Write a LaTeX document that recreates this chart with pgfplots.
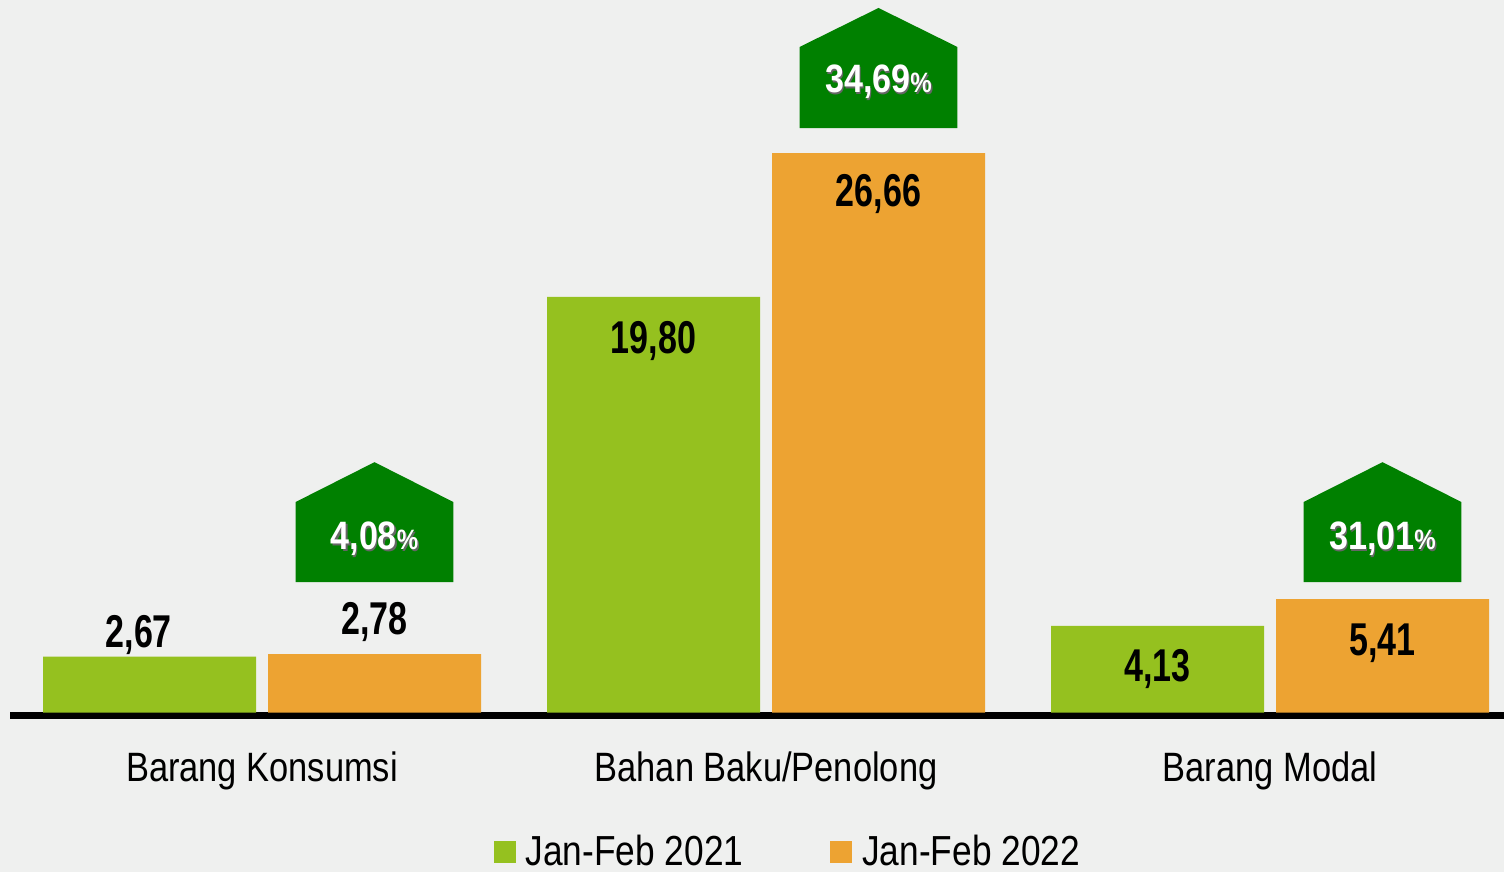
\documentclass[border=0pt]{standalone}
\usepackage{fontspec}
\setmainfont{Liberation Sans}[FakeStretch=0.84]
\newfontfamily\valfont{Liberation Sans}[FakeStretch=0.74]
\newfontfamily\pctfont{Liberation Sans}[FakeStretch=0.86]
\usepackage{pgfplots}
\usepackage{pgfplotstable}
\pgfplotsset{compat=1.18}
\definecolor{bg}{RGB}{239,240,239}
\definecolor{cgreen}{RGB}{149,193,31}
\definecolor{corange}{RGB}{237,163,50}
\definecolor{dkgreen}{RGB}{0,128,0}

\pgfplotstableread{
x y
0 2.67
1 19.80
2 4.13
}\tgreen
\pgfplotstableread{
x y
0 2.78
1 26.66
2 5.41
}\torange

\newcommand{\vlab}[3]{\node[anchor=base, inner sep=0pt] at (axis cs:#1,#2) {\valfont\bfseries\fontsize{23}{26}\selectfont #3};}
\newcommand{\pctlab}[3]{%
 \node[anchor=base, inner sep=0pt, text=black!60] at ([xshift=0.7pt,yshift=-0.7pt]axis cs:#1,#2) {\pctfont\bfseries\fontsize{19.8}{22}\selectfont #3\fontsize{14}{16}\selectfont\%};
 \node[anchor=base, inner sep=0pt, text=white] at (axis cs:#1,#2) {\pctfont\bfseries\fontsize{19.8}{22}\selectfont #3\fontsize{14}{16}\selectfont\%};}

\begin{document}
\begin{tikzpicture}
\fill[bg] (-5pt,-78.45pt) rectangle (747pt,357.55pt);
\begin{axis}[
 at={(0,0)}, anchor=south west, scale only axis,
 width=747pt, height=357.55pt,
 xmin=-0.5, xmax=2.4643, ymin=-0.12, ymax=33.95,
 axis x line=bottom, axis y line=none,
 axis line style={-, line width=3.5pt, black},
 xtick={0,1,2},
 xticklabels={Barang Konsumsi, Bahan Baku/Penolong, Barang Modal},
 major tick length=0pt,
 xticklabel style={font=\fontsize{20.5}{24}\selectfont, anchor=base, inner sep=0pt, yshift=-33pt},
 clip=false,
 legend columns=2,
 legend style={at={(0.5233,0)}, anchor=center, yshift=-68.3pt, draw=none, fill=none,
   font=\fontsize{21}{24}\selectfont, inner sep=0pt,
   /tikz/every even column/.append style={column sep=38.5pt},
   nodes={inner sep=5pt}},
]
\addplot[ybar, bar width=106.5pt, bar shift=-56.25pt, fill=cgreen, draw=none,
  legend image code/.code={\fill[cgreen] (0pt,-5.5pt) rectangle (11pt,5.5pt);}]
  table[x=x, y=y] {\tgreen};
\addlegendentry{Jan-Feb 2021}
\addplot[ybar, bar width=106.5pt, bar shift=56.25pt, fill=corange, draw=none,
  legend image code/.code={\fill[corange] (0pt,-5.5pt) rectangle (11pt,5.5pt);}]
  table[x=x, y=y] {\torange};
\addlegendentry{Jan-Feb 2022}

% callout shapes
\addplot[fill=dkgreen, draw=none, mark=none, forget plot] coordinates {(0.0665,6.22) (0.0665,10.03) (0.2232,11.93) (0.3799,10.03) (0.3799,6.22)};
\addplot[fill=dkgreen, draw=none, mark=none, forget plot] coordinates {(1.0665,27.85) (1.0665,31.71) (1.2232,33.57) (1.3799,31.71) (1.3799,27.85)};
\addplot[fill=dkgreen, draw=none, mark=none, forget plot] coordinates {(2.0665,6.22) (2.0665,10.03) (2.2232,11.93) (2.3799,10.03) (2.3799,6.22)};

\vlab{-0.2445}{3.08}{2,67}
\vlab{0.2232}{3.70}{2,78}
\vlab{0.7768}{17.13}{19,80}
\vlab{1.2232}{24.09}{26,66}
\vlab{1.7768}{1.46}{4,13}
\vlab{2.2232}{2.74}{5,41}

\pctlab{0.2232}{7.75}{4,08}
\pctlab{1.2232}{29.52}{34,69}
\pctlab{2.2232}{7.75}{31,01}
\end{axis}
\pgfresetboundingbox
\useasboundingbox (-5pt,-78.45pt) rectangle (747pt,357.55pt);
\end{tikzpicture}
\end{document}
